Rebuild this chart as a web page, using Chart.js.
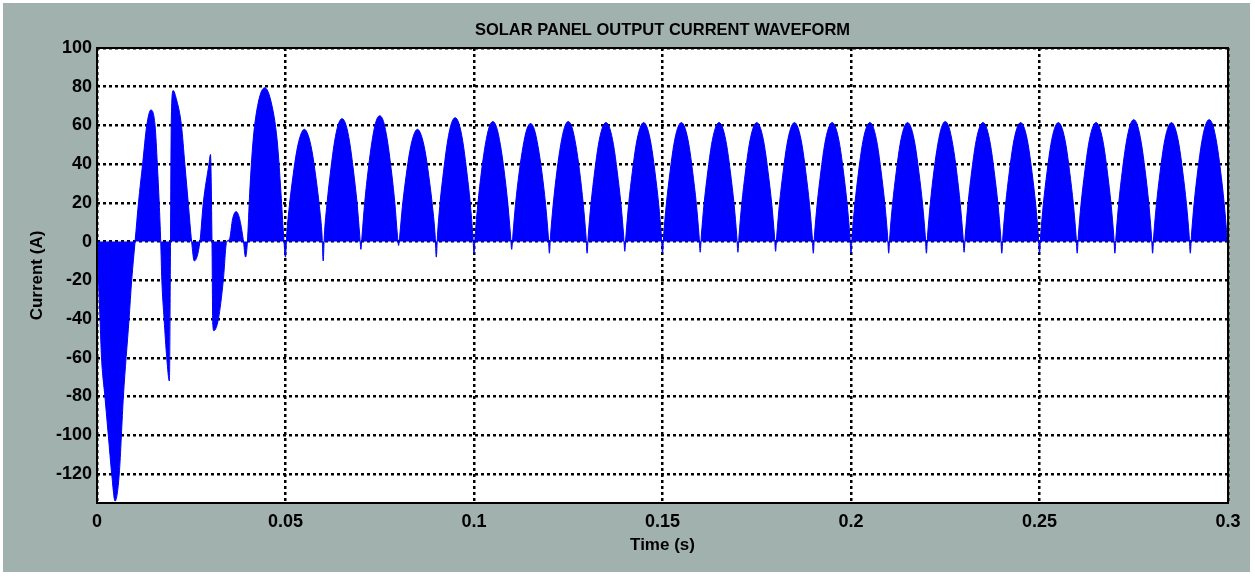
<!DOCTYPE html>
<html>
<head>
<meta charset="utf-8">
<title>Solar panel output current waveform</title>
<script src="https://cdn.jsdelivr.net/npm/chart.js@4.4.1/dist/chart.umd.min.js"></script>
<style>
    html, body { margin: 0; padding: 0; background: #ffffff; }
    #wrap { width: 1255px; height: 577px; }
</style>
</head>
<body>
<div id="wrap"><canvas id="chart" width="1255" height="577"></canvas></div>
<script>
const chartTitle = 'SOLAR PANEL OUTPUT CURRENT WAVEFORM';

// Time (s) of each outline point
const timeS = [
    // start-up transient
    0, 0.0004, 0.0008, 0.0012, 0.0021, 0.003, 0.0039, 0.0048, 0.0059, 0.007, 0.0085, 0.0092,
    0.0101, 0.011, 0.0121, 0.0132, 0.0143, 0.0154, 0.016, 0.0165, 0.0169,
    0.0172, 0.0178, 0.0185, 0.0192, 0.0195, 0.0197, 0.0202, 0.021, 0.0224, 0.0233, 0.0242, 0.0251,
    0.0258, 0.0273, 0.0282, 0.0297, 0.0301, 0.0305, 0.0307, 0.031, 0.0322, 0.0335, 0.0344,
    0.0351, 0.036, 0.0369, 0.0378, 0.0388, 0.0394, 0.0399,
    0.0405, 0.0414, 0.0428, 0.0445, 0.0462, 0.0478, 0.0488, 0.0495,
    // rectified half-waves
    0.05, 0.0503, 0.051, 0.052, 0.053, 0.054, 0.055, 0.056, 0.057, 0.058, 0.059, 0.0597,
    0.06, 0.0603, 0.061, 0.062, 0.063, 0.064, 0.065, 0.066, 0.067, 0.068, 0.069, 0.0697,
    0.07, 0.0703, 0.071, 0.072, 0.073, 0.074, 0.075, 0.076, 0.077, 0.078, 0.079, 0.0797,
    0.08, 0.0803, 0.081, 0.082, 0.083, 0.084, 0.085, 0.086, 0.087, 0.088, 0.089, 0.0897,
    0.09, 0.0903, 0.091, 0.092, 0.093, 0.094, 0.095, 0.096, 0.097, 0.098, 0.099, 0.0997,
    0.1, 0.1003, 0.101, 0.102, 0.103, 0.104, 0.105, 0.106, 0.107, 0.108, 0.109, 0.1097,
    0.11, 0.1103, 0.111, 0.112, 0.113, 0.114, 0.115, 0.116, 0.117, 0.118, 0.119, 0.1197,
    0.12, 0.1203, 0.121, 0.122, 0.123, 0.124, 0.125, 0.126, 0.127, 0.128, 0.129, 0.1297,
    0.13, 0.1303, 0.131, 0.132, 0.133, 0.134, 0.135, 0.136, 0.137, 0.138, 0.139, 0.1397,
    0.14, 0.1403, 0.141, 0.142, 0.143, 0.144, 0.145, 0.146, 0.147, 0.148, 0.149, 0.1497,
    0.15, 0.1503, 0.151, 0.152, 0.153, 0.154, 0.155, 0.156, 0.157, 0.158, 0.159, 0.1597,
    0.16, 0.1603, 0.161, 0.162, 0.163, 0.164, 0.165, 0.166, 0.167, 0.168, 0.169, 0.1697,
    0.17, 0.1703, 0.171, 0.172, 0.173, 0.174, 0.175, 0.176, 0.177, 0.178, 0.179, 0.1797,
    0.18, 0.1803, 0.181, 0.182, 0.183, 0.184, 0.185, 0.186, 0.187, 0.188, 0.189, 0.1897,
    0.19, 0.1903, 0.191, 0.192, 0.193, 0.194, 0.195, 0.196, 0.197, 0.198, 0.199, 0.1997,
    0.2, 0.2003, 0.201, 0.202, 0.203, 0.204, 0.205, 0.206, 0.207, 0.208, 0.209, 0.2097,
    0.21, 0.2103, 0.211, 0.212, 0.213, 0.214, 0.215, 0.216, 0.217, 0.218, 0.219, 0.2197,
    0.22, 0.2203, 0.221, 0.222, 0.223, 0.224, 0.225, 0.226, 0.227, 0.228, 0.229, 0.2297,
    0.23, 0.2303, 0.231, 0.232, 0.233, 0.234, 0.235, 0.236, 0.237, 0.238, 0.239, 0.2397,
    0.24, 0.2403, 0.241, 0.242, 0.243, 0.244, 0.245, 0.246, 0.247, 0.248, 0.249, 0.2497,
    0.25, 0.2503, 0.251, 0.252, 0.253, 0.254, 0.255, 0.256, 0.257, 0.258, 0.259, 0.2597,
    0.26, 0.2603, 0.261, 0.262, 0.263, 0.264, 0.265, 0.266, 0.267, 0.268, 0.269, 0.2697,
    0.27, 0.2703, 0.271, 0.272, 0.273, 0.274, 0.275, 0.276, 0.277, 0.278, 0.279, 0.2797,
    0.28, 0.2803, 0.281, 0.282, 0.283, 0.284, 0.285, 0.286, 0.287, 0.288, 0.289, 0.2897,
    0.29, 0.2903, 0.291, 0.292, 0.293, 0.294, 0.295, 0.296, 0.297, 0.298, 0.299, 0.2997,
    0.3
];

// Current (A) at each of those times
const currentA = [
    0, -20, -40, -60, -80, -100, -120, -134, -120, -80, -40, -20,
    0, 20, 40, 60, 68, 60, 40, 20, 0,
    -20, -40, -60, -72, 0, 62, 78, 74, 60, 40, 20, 0,
    -10, 0, 20, 40, 45, 0, -42, -46, -40, -20, 0,
    1, 12, 15.5, 12, 1, -8, 0,
    25, 52, 72, 79.5, 72, 52, 25, 3,
    -8, 3, 18, 34, 47, 55, 58, 55, 47, 34, 18, 3,
    -10, 3, 19.5, 37, 51.5, 60.5, 63.5, 60.5, 51.5, 37, 19.5, 3,
    -4, 3, 20, 38, 52.5, 62, 65, 62, 52.5, 38, 20, 3,
    -2, 3, 18, 34, 47, 55, 58, 55, 47, 34, 18, 3,
    -8, 3, 20, 37.5, 52, 61, 64, 61, 52, 37.5, 20, 3,
    -6, 3, 19, 36.5, 50, 59, 62, 59, 50, 36.5, 19, 3,
    -4, 3, 19, 36, 49, 58, 61, 58, 49, 36, 19, 3,
    -6, 3, 19, 36.5, 50, 59, 62, 59, 50, 36.5, 19, 3,
    -6, 3, 19, 36, 50, 58.5, 61.5, 58.5, 50, 36, 19, 3,
    -5, 3, 19, 36, 50, 58.5, 61.5, 58.5, 50, 36, 19, 3,
    -6, 3, 19, 36, 50, 58.5, 61.5, 58.5, 50, 36, 19, 3,
    -5.5, 3, 19, 36, 50, 58.5, 61.5, 58.5, 50, 36, 19, 3,
    -5.5, 3, 19, 36, 50, 58.5, 61.5, 58.5, 50, 36, 19, 3,
    -5, 3, 19, 36, 50, 58.5, 61.5, 58.5, 50, 36, 19, 3,
    -6, 3, 19, 36, 50, 58.5, 61.5, 58.5, 50, 36, 19, 3,
    -6, 3, 19, 36, 50, 58.5, 61.5, 58.5, 50, 36, 19, 3,
    -6, 3, 19, 36, 50, 58.5, 61.5, 58.5, 50, 36, 19, 3,
    -6, 3, 19, 36.5, 50, 59, 62, 59, 50, 36.5, 19, 3,
    -5.5, 3, 19, 36, 50, 58.5, 61.5, 58.5, 50, 36, 19, 3,
    -6, 3, 19, 36, 50, 58.5, 61.5, 58.5, 50, 36, 19, 3,
    -6, 3, 19, 36, 50, 58.5, 61.5, 58.5, 50, 36, 19, 3,
    -6, 3, 19, 36, 50, 58.5, 61.5, 58.5, 50, 36, 19, 3,
    -6, 3, 19.5, 37, 51, 60, 63, 60, 51, 37, 19.5, 3,
    -6, 3, 19, 36, 50, 58.5, 61.5, 58.5, 50, 36, 19, 3,
    -6, 3, 19.5, 37, 51, 60, 63, 60, 51, 37, 19.5, 3,
    -6
];

// Axis ticks
const xTickValues = [0, 0.05, 0.1, 0.15, 0.2, 0.25, 0.3];
const xTickLabels = ['0', '0.05', '0.1', '0.15', '0.2', '0.25', '0.3'];
const yTickValues = [-120, -100, -80, -60, -40, -20, 0, 20, 40, 60, 80, 100];

const FONT = '"Liberation Sans", Arial, Helvetica, sans-serif';

// Grey figure background, white axes box, black frame and the title
const scopeFrame = {
    id: 'scopeFrame',
    beforeDraw(chart) {
        const { ctx, chartArea: a } = chart;
        ctx.save();
        ctx.fillStyle = '#ffffff';
        ctx.fillRect(0, 0, chart.width, chart.height);
        ctx.fillStyle = '#a1b1ad';
        ctx.fillRect(3, 3, chart.width - 8, chart.height - 8);
        ctx.fillStyle = '#ffffff';
        ctx.fillRect(a.left, a.top, a.right - a.left, a.bottom - a.top);
        ctx.restore();
    },
    afterDatasetsDraw(chart) {
        const { ctx, chartArea: a } = chart;
        ctx.save();
        ctx.strokeStyle = '#000000';
        ctx.lineWidth = 2;
        ctx.strokeRect(a.left, a.top, a.right - a.left, a.bottom - a.top);
        ctx.fillStyle = '#000000';
        ctx.font = 'bold 16.5px ' + FONT;
        ctx.textAlign = 'center';
        ctx.textBaseline = 'middle';
        ctx.fillText(chartTitle, (a.left + a.right) / 2, 30);
        ctx.restore();
    }
};

const points = timeS.map((t, i) => ({ x: t, y: currentA[i] }));

new Chart(document.getElementById('chart'), {
    type: 'line',
    data: {
        datasets: [{
            label: 'Current',
            data: points,
            fill: 'origin',
            backgroundColor: '#0000ff',
            borderColor: '#0000ff',
            borderWidth: 1,
            pointRadius: 0,
            cubicInterpolationMode: 'monotone'
        }]
    },
    options: {
        responsive: false,
        animation: false,
        events: [],
        layout: { padding: { left: 0, right: 27, top: 48, bottom: 0 } },
        plugins: {
            legend: { display: false },
            tooltip: { enabled: false },
            title: { display: false }
        },
        scales: {
            x: {
                type: 'linear',
                min: 0,
                max: 0.3,
                afterBuildTicks: scale => {
                    scale.ticks = xTickValues.map(v => ({ value: v }));
                },
                afterFit: scale => { scale.height = 74; },
                grid: {
                    color: '#000000',
                    lineWidth: 2.5,
                    drawTicks: false
                },
                border: { display: false, dash: [3, 3] },
                ticks: {
                    color: '#000000',
                    padding: 8,
                    maxRotation: 0,
                    autoSkip: false,
                    font: { family: FONT, size: 18, weight: 'bold' },
                    callback: (value, index) => xTickLabels[index]
                },
                title: {
                    display: true,
                    text: 'Time (s)',
                    color: '#000000',
                    font: { family: FONT, size: 17, weight: 'bold' },
                    padding: { top: 0, bottom: 21 }
                }
            },
            y: {
                type: 'linear',
                min: -135,
                max: 100,
                afterBuildTicks: scale => {
                    scale.ticks = yTickValues.map(v => ({ value: v }));
                },
                afterFit: scale => { scale.width = 97; },
                grid: {
                    color: '#000000',
                    lineWidth: 2.5,
                    drawTicks: false
                },
                border: { display: false, dash: [3, 3] },
                ticks: {
                    color: '#000000',
                    padding: 5,
                    autoSkip: false,
                    font: { family: FONT, size: 18, weight: 'bold' }
                },
                title: {
                    display: true,
                    text: 'Current (A)',
                    color: '#000000',
                    font: { family: FONT, size: 17, weight: 'bold' },
                    padding: { top: 27, bottom: 0 }
                }
            }
        }
    },
    plugins: [scopeFrame]
});
</script>
</body>
</html>
